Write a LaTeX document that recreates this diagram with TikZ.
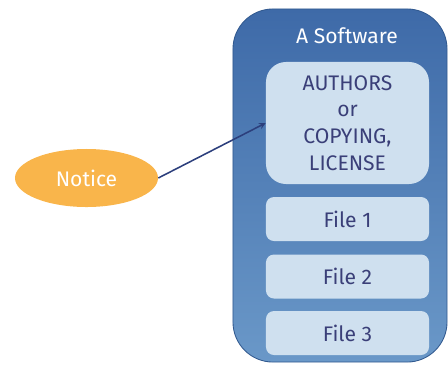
\documentclass[tikz,border=0pt]{standalone}
\usepackage{fontspec}
\setmainfont{Fira Sans}
\usetikzlibrary{positioning}
\usetikzlibrary{shapes.geometric}
\usepackage{xcolor}

\definecolor{swtop}{HTML}{3E6AA8}
\definecolor{swbottom}{HTML}{6A98C8}
\definecolor{swline}{HTML}{31598F}
\definecolor{filefill}{HTML}{CFE0EF}
\definecolor{filetext}{HTML}{3A3F78}
\definecolor{noticefill}{HTML}{F9B54B}
\definecolor{arrowblue}{HTML}{2C3F7C}

\tikzset{
  filebox/.style={fill=filefill, text=filetext, rounded corners=0.2cm,
    minimum width=4.075cm, minimum height=1.1cm, inner sep=0pt,
    font=\fontsize{15}{19}\selectfont},
}

\begin{document}
\begin{tikzpicture}[x=0.025cm,y=-0.025cm]
\useasboundingbox (0,0) rectangle (448,364);

% software container
\node[draw=swline, line width=0.6pt, rounded corners=1cm, top color=swtop, bottom color=swbottom,
  minimum width=5.35cm, minimum height=8.825cm, inner sep=0pt] (soft) at (340,185.5) {};
\node[text=white, font=\fontsize{15}{18}\selectfont] (title) at (347,36) {A Software};

% files
\node[filebox, rounded corners=0.5cm, minimum height=3.05cm, align=center] (auth) at (347.5,123)
  {AUTHORS\\or\\COPYING,\\LICENSE};
\node[filebox] (file1) at (347.5,219) {File 1};
\node[filebox] (file2) at (347.5,276.5) {File 2};
\node[filebox] (file3) at (347.5,333) {File 3};

% notice
\node[ellipse, fill=noticefill, text=white, minimum width=3.575cm, minimum height=1.45cm, inner sep=0pt,
  font=\fontsize{15}{18}\selectfont] (notice) at (86.5,178) {Notice};

\draw[->, >=stealth, arrowblue, line width=1.1pt] (notice.east) -- (auth.west);

\end{tikzpicture}
\end{document}
